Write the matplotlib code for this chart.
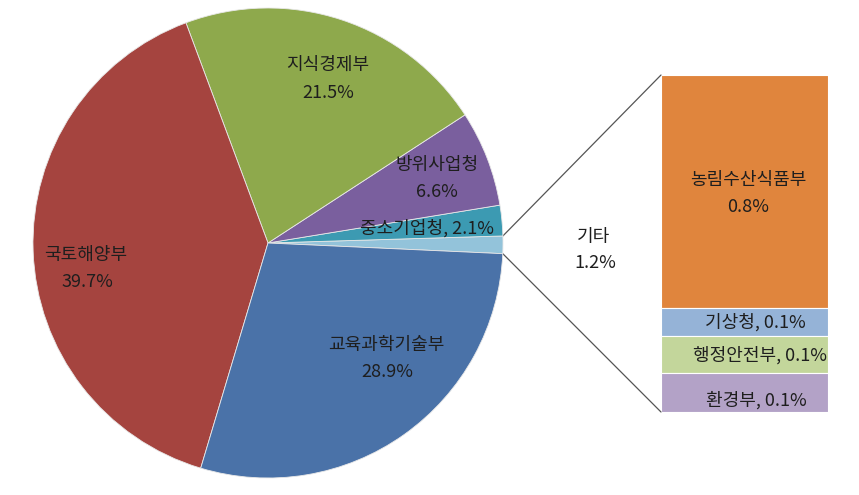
import matplotlib
matplotlib.use('Agg')
import matplotlib.pyplot as plt
from matplotlib.patches import ConnectionPatch
import numpy as np

plt.rcParams['font.family'] = ['Noto Sans CJK KR', 'DejaVu Sans']

# 파이 데이터 (반시계 방향 순서)
pie_labels = ['기타', '중소기업청', '방위사업청', '지식경제부', '국토해양부', '교육과학기술부']
pie_values = [1.2, 2.1, 6.6, 21.5, 39.7, 28.9]
pie_colors = ['#93C3DA', '#3C9AB2', '#7A5F9E', '#8EA94C', '#A5443F', '#4A72A8']

# 기타 세부 (위에서 아래로)
sub_labels = ['농림수산식품부', '기상청', '행정안전부', '환경부']
sub_values = [0.83, 0.10, 0.13, 0.14]
sub_colors = ['#E0853D', '#95B3D7', '#C3D69B', '#B3A2C7']

W, H = 859, 495
fig = plt.figure(figsize=(W / 100, H / 100), dpi=100)

# 기타 세부 막대
bx0, bx1, by0, by1 = 661, 828, 75, 412
ax2 = fig.add_axes([bx0 / W, 1 - by1 / H, (bx1 - bx0) / W, (by1 - by0) / H])
total = sum(sub_values)
bottom = total
for v, c in zip(sub_values, sub_colors):
    bottom -= v
    ax2.bar(0, v, width=1, bottom=bottom, color=c, edgecolor='white', linewidth=0.8)
ax2.set_xlim(-0.5, 0.5)
ax2.set_ylim(0, total)
ax2.axis('off')

# 파이 차트 (픽셀 좌표계, 막대 위에 그려 레이블이 보이도록)
ax = fig.add_axes([0, 0, 1, 1])
ax.set_zorder(3)
ax.set_xlim(0, W)
ax.set_ylim(0, H)
ax.set_aspect('equal')
ax.axis('off')

cx, cy, r = 268, H - 243, 235
start = -2.6
wedges, _ = ax.pie(pie_values, colors=pie_colors, startangle=start, center=(cx, cy),
                   radius=r, wedgeprops=dict(linewidth=0.6, edgecolor='#E8E8E8'))
ax.set_xlim(0, W)
ax.set_ylim(0, H)

fs = 13
tc = '#1E1E1E'
def txt(x, y, s):
    ax.text(x, H - y, s, ha='center', va='center', fontsize=fs, color=tc, zorder=5)

# 파이 레이블
txt(328, 65, '지식경제부')
txt(328, 93, '21.5%')
txt(437, 165, '방위사업청')
txt(437, 192, '6.6%')
txt(427, 228, '중소기업청, 2.1%')
txt(86, 255, '국토해양부')
txt(87, 282, '39.7%')
txt(386, 345, '교육과학기술부')
txt(387, 372, '28.9%')
txt(594, 237, '기타')
txt(595, 263, '1.2%')

# 막대 레이블
txt(748, 180, sub_labels[0])
txt(748, 207, f'{sub_values[0]:.1f}%')
txt(755, 322, f'{sub_labels[1]}, {sub_values[1]:.1f}%')
txt(760, 355, f'{sub_labels[2]}, {sub_values[2]:.1f}%')
txt(756, 400, f'{sub_labels[3]}, {sub_values[3]:.1f}%')

# 연결선
w = wedges[0]
for theta, yb in [(w.theta2, total), (w.theta1, 0)]:
    x = cx + r * np.cos(np.radians(theta))
    y = cy + r * np.sin(np.radians(theta))
    con = ConnectionPatch(xyA=(-0.5, yb), coordsA=ax2.transData,
                          xyB=(x, y), coordsB=ax.transData,
                          color='#555555', linewidth=0.9)
    fig.add_artist(con)

fig.savefig('out.png', dpi=100)
